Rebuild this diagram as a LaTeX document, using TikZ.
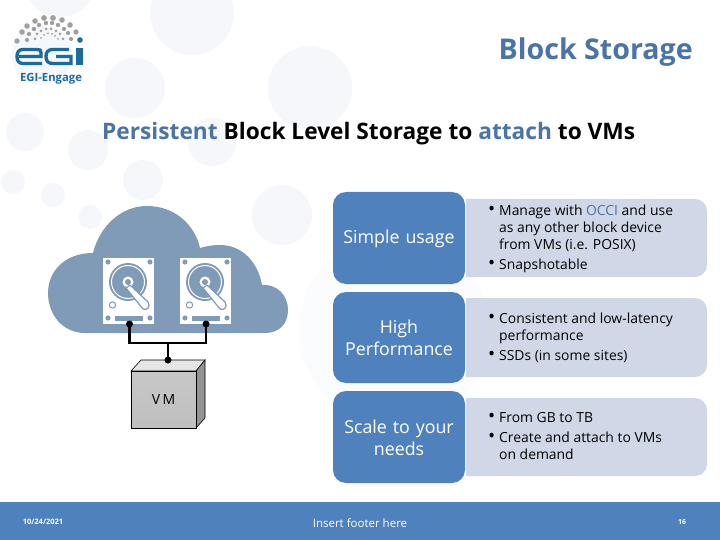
\documentclass[tikz,border=0pt]{standalone}
\usepackage{fontspec}
\setmainfont{Open Sans}
\definecolor{accent}{HTML}{4F81BD}
\definecolor{pale}{HTML}{D0D8E8}
\definecolor{ghost}{HTML}{F5F7FA}
\definecolor{ghostb}{HTML}{FBFCFD}
\definecolor{cloudc}{HTML}{7F9BB7}
\definecolor{logoblue}{HTML}{1C6A9E}
\definecolor{logogrey}{HTML}{A0A0A0}
\definecolor{titleblue}{HTML}{4A74A8}
\tikzset{
  x=1pt,y=-1pt,
  ghostdot/.style={fill=ghost,draw=none},
  headbox/.style={fill=accent,draw=none,rounded corners=13pt},
  bodybox/.style={fill=pale,draw=none},
  headtext/.style={text=white,align=center,font=\fontsize{17.8}{22.5}\selectfont,text width=128pt,anchor=center,inner sep=0pt},
  bodytext/.style={text=black,align=left,font=\fontsize{13.9}{17.1}\selectfont,anchor=north west,inner sep=0pt},
  wire/.style={line width=2.8pt,black},
  pin/.style={circle,fill=black,inner sep=0pt,minimum size=7pt},
  diskbody/.style={fill=white,draw=none,rectangle,inner sep=0pt,minimum width=51pt,minimum height=66pt},
  diskline/.style={draw=white,line width=1pt},
  diskdot/.style={fill=cloudc,draw=none},
  footertext/.style={text=white,inner sep=0pt},
}
\newcommand{\bodyshape}[2]{\path[bodybox] (466,#1) -- (695,#1) arc[start angle=-90,end angle=0,radius=12] -- (707,#2-12) arc[start angle=0,end angle=90,radius=12] -- (466,#2) -- cycle;}
\newcommand{\diskart}[1]{%
  \begin{scope}[shift={(#1,258)}]
    \fill[diskdot] (5,4) circle (2.6) (47,4) circle (2.6) (5,60) circle (2.6) (47,60) circle (2.6);
    \fill[diskdot] (12,58) rectangle (40,62.5);
    \fill[cloudc] (25,24) circle (19);
    \draw[diskline,line width=1pt] (25,24) circle (16.5);
    \fill[white] (25,24) circle (5.5);
    \fill[cloudc] (25,24) circle (3);
    \draw[cloudc,line width=1pt] (9.5,47) circle (3.2);
    \fill[white,draw=cloudc,line width=1.2pt,line join=round] (23,30) -- (27,27) -- (45,44) .. controls (48,49) and (44,53) .. (40,51) -- cycle;
  \end{scope}}
\newcommand{\bull}[3]{\node[bodytext] at (#1-11,#2) {\strut{\fontsize{19}{17.1}\selectfont •}}; \node[bodytext] at (#1,#2) {\strut #3};}
\begin{document}
\begin{tikzpicture}
\useasboundingbox (0,0) rectangle (720,540);
\fill[white] (0,0) rectangle (720,540);
% faint background discs
\fill[ghostb] (394,330) circle (95);
\foreach \cx/\cy/\r in {60/-18/35,192/13/42,135/88/30,42/55/30,25/132/19,88/150/20,212/142/24,310/88/42,282/215/30,13/182/12,53/195/12,143/180/20,90/217/12}
  \fill[ghostdot] (\cx,\cy) circle (\r);
% logo
\foreach \px/\py/\s in {17/41/2.7,22/32/2.8,27/26/2.8,35/21/2.8,44/18/2.9,53/18/2.9,62/20/2.8,70/25/2.8,76/32/2.7,
  27/40/2.1,29/34/2.1,34/29/2.2,39/25/2.2,46/23/2.2,52/23/2.2,58/25/2.2,64/29/2.2,68/33/2.1,71/39/2.1,
  35/39/1.5,37/34/1.5,41/31/1.5,46/29/1.5,51/29/1.5,56/31/1.5,60/34/1.5,63/39/1.5,
  41/38/1,44/35/1,48/33.5/1,52/34/1,55/36/1,58/39/1}
  \fill[logogrey] (\px,\py) circle (\s);
\fill[logoblue] (80,40) circle (2.8);
\begin{scope}[logoblue,line width=3.3pt,line cap=butt]
  \draw (19,56.5) -- (41,56.5) -- (41,52.5) .. controls (41,50) and (40,49.5) .. (37,49.5) -- (23,49.5) .. controls (19,49.5) and (17,52) .. (17,56.5) .. controls (17,61) and (19,63.5) .. (23,63.5) -- (42,63.5);
  \draw (69,49.5) -- (53,49.5) .. controls (48,49.5) and (46,52) .. (46,56.5) .. controls (46,61) and (48,63.5) .. (53,63.5) -- (71,63.5) -- (71,56.5) -- (56,56.5);
\end{scope}
\fill[logoblue] (76,48) rectangle (83,65.2);
\node[text=logoblue,font=\bfseries\fontsize{11.3}{13}\selectfont,inner sep=0pt] (logotext) at (51,79) {EGI-Engage};
% titles
\node[text=titleblue,font=\bfseries\fontsize{28.6}{32}\selectfont,inner sep=0pt,anchor=east] (title) at (693,52) {Block Storage};
\node[font=\bfseries\fontsize{22.7}{26}\selectfont,inner sep=0pt,anchor=west] (subtitle) at (102,134) {\textcolor{titleblue}{Persistent} Block Level Storage to \textcolor{titleblue}{attach} to VMs};
% cloud
\fill[cloudc] (85,333) .. controls (63,333) and (48,315) .. (48,293)
  .. controls (48,271) and (65,253) .. (93,253)
  .. controls (100,225) and (122,206) .. (147,206)
  .. controls (175,206) and (195,225) .. (200,248)
  .. controls (207,246) and (213,245) .. (220,245)
  .. controls (242,245) and (258,262) .. (262,285)
  .. controls (277,284) and (288,295) .. (288,310)
  .. controls (288,324) and (279,333) .. (265,333) -- cycle;
% disks
\node[diskbody] (diskA) at (128.5,291) {};
\node[diskbody] (diskB) at (205.5,291) {};
\diskart{103}
\diskart{180}
% VM box
\fill[black!10,draw=black,line width=0.6pt] (131,371) -- (141,360) -- (205,360) -- (196,371) -- cycle;
\fill[black!42,draw=black,line width=0.6pt] (196,371) -- (205,360) -- (205,418) -- (196,428) -- cycle;
\node[draw=black,line width=0.6pt,top color=black!22,middle color=black!5,bottom color=black!25,rectangle,minimum width=65pt,minimum height=57pt,inner sep=0pt,font=\fontsize{14}{16}\selectfont,text=black] (vm) at (163.5,399.5) {V\,M};
% connectors
\node[pin] (pinA) at (129.5,324) {};
\node[pin] (pinB) at (206,324) {};
\node[pin] (pinV) at (168,360) {};
\coordinate (joint) at (168,343);
\draw[wire] (pinA.center) |- (joint) -| (pinB.center);
\draw[wire] (joint) -- (pinV.center);
% blue and pale rows
\path[headbox] (333,192) rectangle (465,284);
\path[headbox] (333,292) rectangle (465,383);
\path[headbox] (333,391) rectangle (465,483);
\bodyshape{199}{277}
\bodyshape{298}{377}
\bodyshape{398}{476}
\node[headtext] (headA) at (399,239) {Simple usage};
\node[headtext] (headB) at (399,338) {High\\Performance};
\node[headtext] (headC) at (399,438) {Scale to your\\needs};
\bull{499}{203}{Manage with \textcolor{titleblue}{OCCI} and use\\as any other block device\\from VMs (i.e. POSIX)}
\bull{499}{257}{Snapshotable}
\bull{499}{311}{Consistent and low-latency\\performance}
\bull{499}{348}{SSDs (in some sites)}
\bull{499}{410}{From GB to TB}
\bull{499}{430}{Create and attach to VMs\\on demand}
% footer
\fill[accent] (0,502) rectangle (720,540);
\node[footertext,font=\bfseries\fontsize{7.5}{9}\selectfont] (date) at (43,522) {10/24/2021};
\node[footertext,font=\fontsize{11.5}{14}\selectfont] (foot) at (360,523) {Insert footer here};
\node[footertext,font=\bfseries\fontsize{7}{9}\selectfont] (page) at (682,522) {16};
\end{tikzpicture}
\end{document}
